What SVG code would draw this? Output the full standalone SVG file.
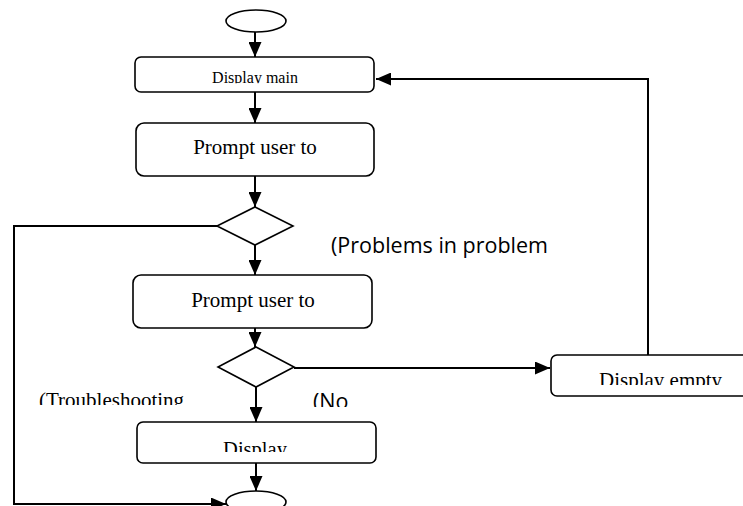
<svg xmlns="http://www.w3.org/2000/svg" width="743" height="506" viewBox="0 0 743 506">
<style>
.box{fill:#fff;stroke:#000;stroke-width:1.6}
.ser{font-family:"Liberation Serif","Times New Roman",serif;fill:#000}
.san{font-family:"Open Sans","Noto Sans",sans-serif;fill:#000}
.ln{fill:none;stroke:#000;stroke-width:2}
</style>
<defs>
<marker id="ah" viewBox="0 0 15 13" refX="15" refY="6.5" markerWidth="15" markerHeight="13" markerUnits="userSpaceOnUse" orient="auto">
<path d="M0,0 L15,6.5 L0,13 Z" fill="#000"/>
</marker>
<clipPath id="c1"><rect x="0" y="0" width="743" height="83.3"/></clipPath>
<clipPath id="c4"><rect x="0" y="0" width="743" height="452"/></clipPath>
<clipPath id="c5"><rect x="0" y="0" width="743" height="385"/></clipPath>
<clipPath id="c6"><rect x="0" y="0" width="743" height="405"/></clipPath>
<clipPath id="c7"><rect x="0" y="0" width="743" height="407"/></clipPath>
</defs>
<g id="connectors">
<line class="ln" x1="255" y1="32" x2="255" y2="57" marker-end="url(#ah)"/>
<line class="ln" x1="255" y1="92" x2="255" y2="123" marker-end="url(#ah)"/>
<line class="ln" x1="255" y1="176" x2="255" y2="207" marker-end="url(#ah)"/>
<line class="ln" x1="255" y1="245" x2="255" y2="275" marker-end="url(#ah)"/>
<line class="ln" x1="255" y1="328" x2="255" y2="347" marker-end="url(#ah)"/>
<line class="ln" x1="256" y1="387" x2="256" y2="422" marker-end="url(#ah)"/>
<line class="ln" x1="256" y1="463" x2="256" y2="491" marker-end="url(#ah)"/>
<line class="ln" x1="294" y1="368" x2="550" y2="368" marker-end="url(#ah)"/>
<polyline class="ln" points="648,355 648,79 376,79" marker-end="url(#ah)"/>
<polyline class="ln" points="217,226 14,226 14,504 226,504" marker-end="url(#ah)"/>
</g>
<g id="start"><ellipse class="box" cx="256" cy="21" rx="30" ry="11"/></g>
<g id="display-main">
<rect class="box" x="135" y="57" width="239" height="35" rx="6"/>
<text class="ser" x="255" y="82.5" font-size="16" text-anchor="middle" clip-path="url(#c1)">Display main</text>
</g>
<g id="prompt1">
<rect class="box" x="136" y="123" width="238" height="53" rx="8"/>
<text class="ser" x="255" y="154" font-size="21" text-anchor="middle">Prompt user to</text>
</g>
<g id="decision1"><polygon class="box" points="255,207 293,226 255,245 217,226"/></g>
<g id="prompt2">
<rect class="box" x="133" y="275" width="239" height="53" rx="8"/>
<text class="ser" x="253" y="307" font-size="21" text-anchor="middle">Prompt user to</text>
</g>
<g id="decision2"><polygon class="box" points="256,347 294,367 256,387 218,367"/></g>
<g id="display">
<rect class="box" x="137" y="422" width="239" height="41" rx="6"/>
<text class="ser" x="255" y="455.6" font-size="20.5" text-anchor="middle" clip-path="url(#c4)">Display</text>
</g>
<g id="display-empty">
<rect class="box" x="551" y="355" width="200" height="41" rx="6"/>
<text class="ser" x="599" y="387" font-size="21" clip-path="url(#c5)">Display empty</text>
</g>
<g id="end"><ellipse class="box" cx="256" cy="502" rx="30" ry="11"/></g>
<g id="labels">
<text class="san" x="331" y="253" font-size="21.5">(Problems in problem</text>
<text class="ser" x="39" y="407" font-size="21" clip-path="url(#c6)">(Troubleshooting</text>
<text class="san" x="313" y="409" font-size="21.5" clip-path="url(#c7)">(No</text>
</g>
</svg>
